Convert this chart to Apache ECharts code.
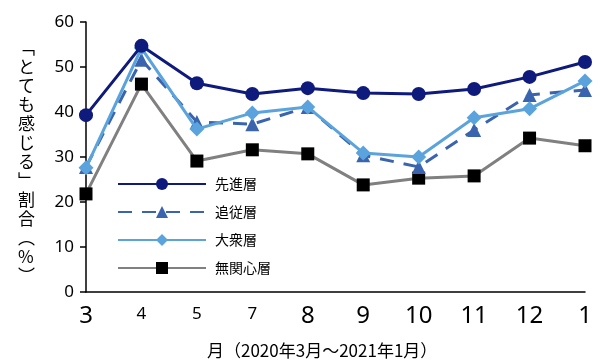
<!DOCTYPE html>
<html><head><meta charset="utf-8">
<script src="https://cdn.jsdelivr.net/npm/echarts@6/dist/echarts.min.js"></script>
<style>html,body{margin:0;padding:0;background:#fff}#c{width:600px;height:364px}</style>
</head><body><div id="c"></div>
<script>
const months = ['3','4','5','7','8','9','10','11','12','1'];
const bigLabels = ['3','8','9','10','11','12','1'];
const seriesNames = ['先進層','追従層','大衆層','無関心層'];
const senshin = [39.3,54.7,46.4,44.0,45.3,44.2,44.0,45.1,47.8,51.1];
const tsuiju = [27.8,51.6,37.8,37.3,41.1,30.4,27.8,36.0,43.8,44.9];
const taishu = [27.6,54.2,36.2,39.8,41.1,30.9,30.0,38.7,40.7,46.9];
const mukanshin = [21.8,46.2,29.1,31.6,30.7,23.8,25.3,25.8,34.2,32.5];
const yTicks = [0,10,20,30,40,50,60];
const yName = '﹁とても感じる﹂割合︵%︶';
const xName = '月（2020年3月～2021年1月）';

const chart = echarts.init(document.getElementById('c'));
const ff = '"Noto Sans CJK JP","Noto Sans",sans-serif';
const catData = months.map(m => ({
  value: m,
  textStyle: bigLabels.includes(m) ? {fontSize: 24} : {fontSize: 17, padding: [2,0,0,0]}
}));
function mk(name, data, color, lineColor, symbol, size, dashed, z) {
  return {
    name, type: 'line', data, symbol, symbolSize: size, z,
    itemStyle: {color: color, borderWidth: 0},
    lineStyle: {color: lineColor, width: 3, type: dashed ? [14, 10] : 'solid'},
    emphasis: {disabled: true}, animation: false
  };
}
chart.setOption({
  animation: false,
  textStyle: {fontFamily: ff},
  grid: {left: 86, right: 15, top: 22, bottom: 72},
  xAxis: {
    type: 'category', data: catData, boundaryGap: false,
    axisLine: {lineStyle: {color: '#000', width: 1.5}},
    axisTick: {show: false},
    axisLabel: {color: '#000', margin: 12, fontFamily: '"Noto Sans",sans-serif', verticalAlign: 'top'}
  },
  yAxis: {
    type: 'value', min: yTicks[0], max: yTicks[yTicks.length-1], interval: 10,
    splitLine: {show: false},
    axisLine: {show: true, lineStyle: {color: '#000', width: 1.5}},
    axisTick: {show: true, inside: false, length: 6, lineStyle: {color: '#000', width: 1.5}},
    axisLabel: {color: '#000', fontSize: 17, margin: 12, fontFamily: '"Noto Sans",sans-serif'}
  },
  legend: {
    orient: 'vertical', left: 112, top: 172, itemWidth: 88, itemHeight: 15, itemGap: 14,
    textStyle: {fontSize: 14, color: '#000', fontFamily: ff, padding: [0,0,0,4]},
    data: seriesNames
  },
  graphic: [
    {type: 'text', left: 18, top: 38, style: {text: yName.split('').join('\n'), font: '17px "Noto Sans CJK JP"', lineHeight: 19, fill: '#000', align: 'center'}},
    {type: 'text', left: 207, top: 342, style: {text: xName, font: '17px "Noto Sans CJK JP"', fill: '#000'}}
  ],
  series: [
    mk(seriesNames[3], mukanshin, '#000000', '#808080', 'rect', 13, false, 2),
    mk(seriesNames[1], tsuiju, '#3A64AD', '#3A64AD', 'triangle', 14, true, 3),
    mk(seriesNames[2], taishu, '#5BA3DC', '#5BA3DC', 'diamond', 15, false, 4),
    mk(seriesNames[0], senshin, '#0E1A7C', '#0E1A7C', 'circle', 14, false, 5)
  ]
});
</script></body></html>
